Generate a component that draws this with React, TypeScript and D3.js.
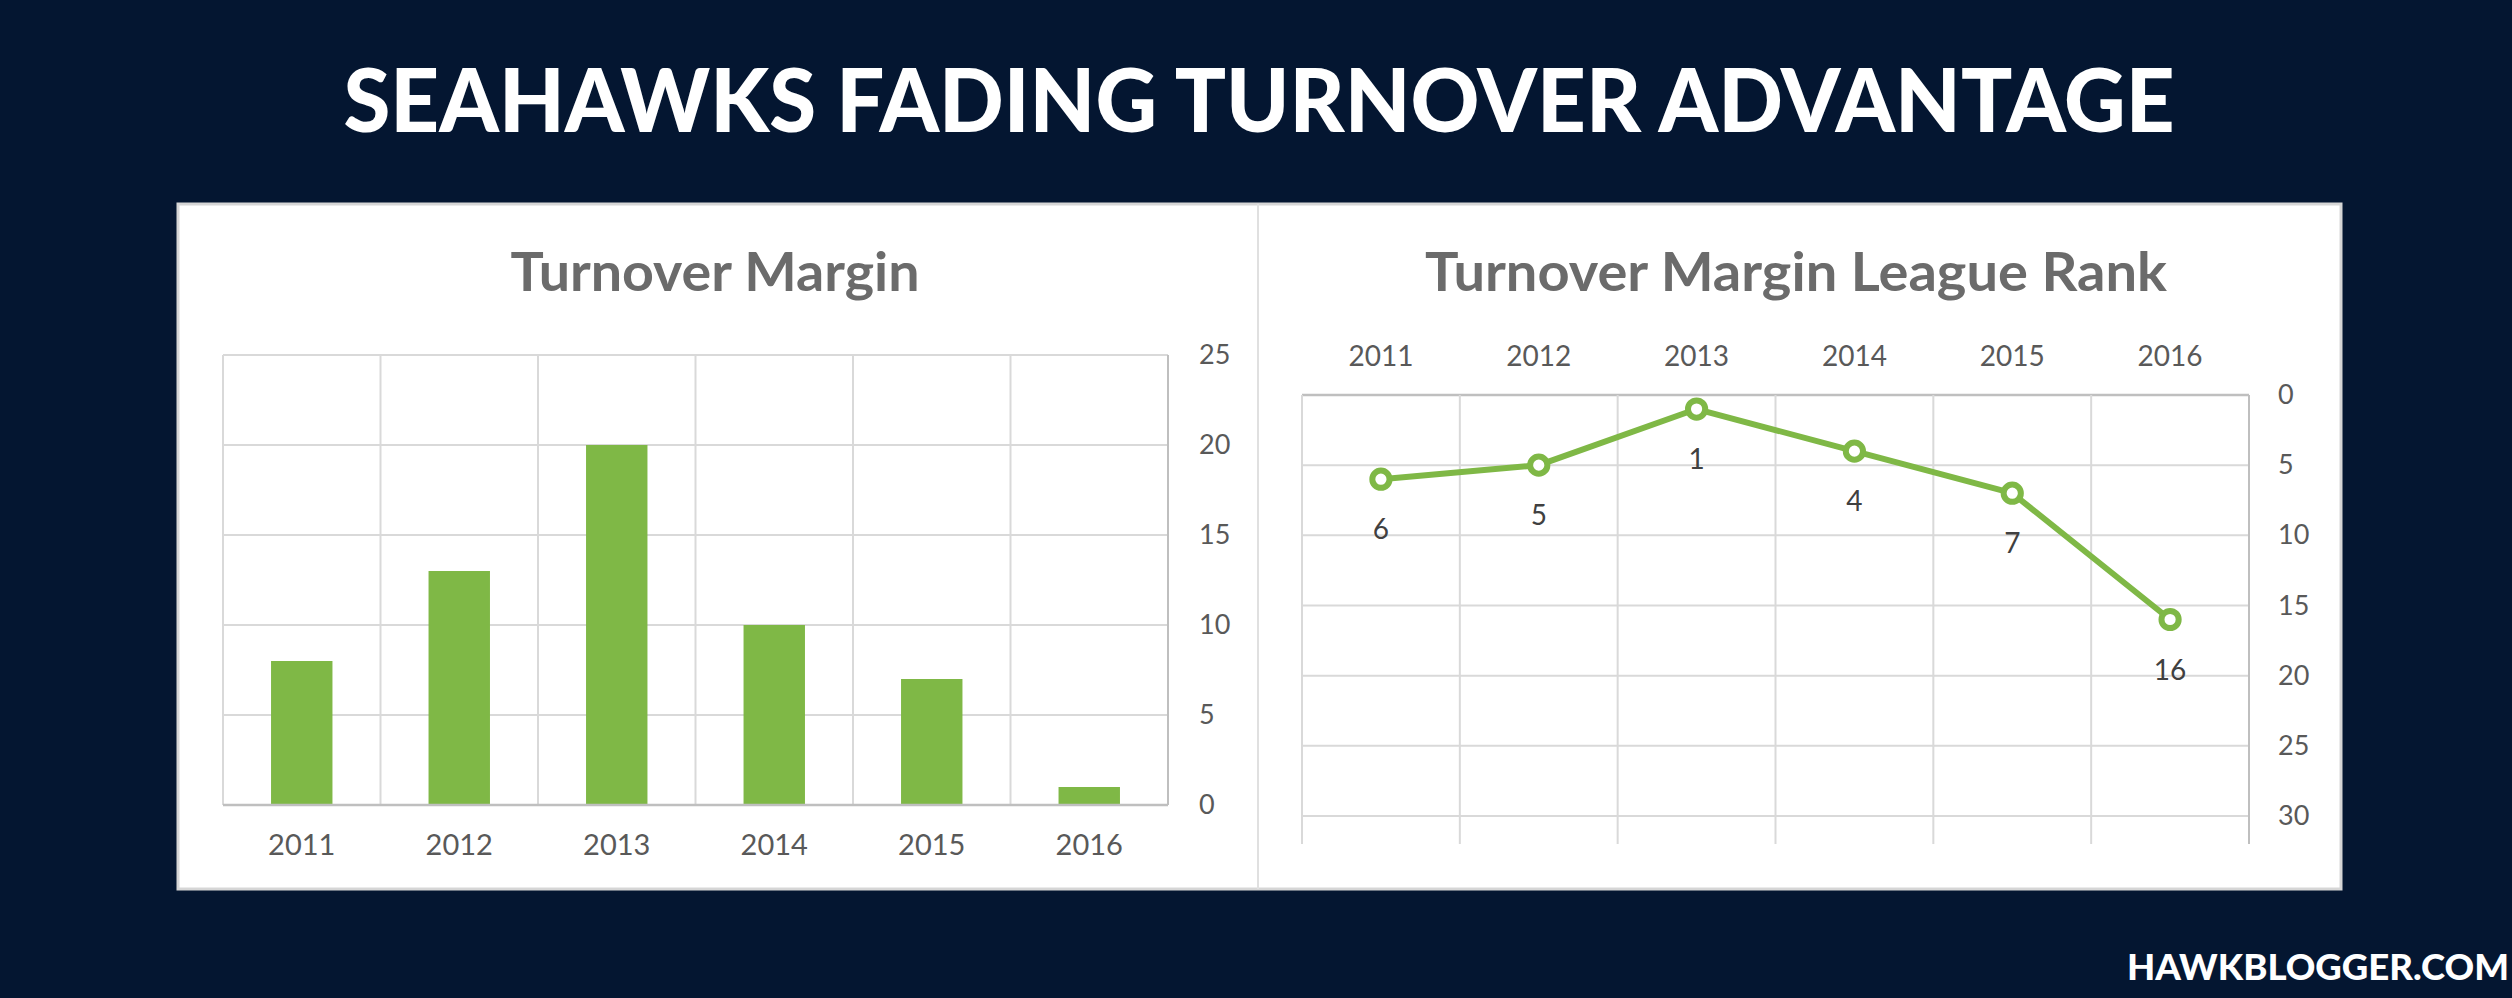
import { useEffect, useRef } from 'react'
import * as d3 from 'd3'

// 데이터
const years = ['2011', '2012', '2013', '2014', '2015', '2016']
const turnoverMargin = [8, 13, 20, 10, 7, 1]
const leagueRank = [6, 5, 1, 4, 7, 16]
const marginTicks = [0, 5, 10, 15, 20, 25]
const rankTicks = [0, 5, 10, 15, 20, 25, 30]

const W = 2512
const H = 998
const BG = '#041631'
const GREEN = '#7FB846'
const GRID = '#D9D9D9'
const AXIS = '#BFBFBF'
const LABEL = '#595959'
const FONT = "Lato, 'Open Sans', sans-serif"

// 패널 / 플롯 영역
const PANEL = { x: 178, y: 204, w: 2163, h: 685 }
const DIVIDER_X = 1258
const BAR = { left: 223, right: 1168, top: 355, bottom: 805 }
const LINE = { left: 1302, right: 2249, top: 395, bottom: 844 }

export default function App() {
  const svgRef = useRef<SVGSVGElement>(null)

  useEffect(() => {
    const svg = d3.select(svgRef.current)
    svg.selectAll('*').remove()
    svg.attr('viewBox', `0 0 ${W} ${H}`)

    svg.append('rect').attr('width', W).attr('height', H).attr('fill', BG)

    // ── 큰 제목 ──
    svg.append('text')
      .attr('x', 1259).attr('y', 132)
      .attr('text-anchor', 'middle')
      .attr('font-family', FONT).attr('font-weight', 900).attr('font-size', 88)
      .attr('fill', '#FFFFFF')
      .attr('textLength', 1831).attr('lengthAdjust', 'spacingAndGlyphs')
      .text('SEAHAWKS FADING TURNOVER ADVANTAGE')

    // ── 흰 패널 ──
    svg.append('rect')
      .attr('x', PANEL.x).attr('y', PANEL.y).attr('width', PANEL.w).attr('height', PANEL.h)
      .attr('fill', '#FFFFFF').attr('stroke', '#D6D6D6').attr('stroke-width', 3)
    svg.append('line')
      .attr('x1', DIVIDER_X).attr('x2', DIVIDER_X)
      .attr('y1', PANEL.y).attr('y2', PANEL.y + PANEL.h)
      .attr('stroke', '#E0E0E0').attr('stroke-width', 2)

    // ── 차트 제목 ──
    const chartTitle = (x: number, len: number, txt: string) =>
      svg.append('text')
        .attr('x', x).attr('y', 291)
        .attr('text-anchor', 'middle')
        .attr('font-family', FONT).attr('font-weight', 700).attr('font-size', 53)
        .attr('fill', '#6B6B6B')
        .attr('textLength', len).attr('lengthAdjust', 'spacingAndGlyphs')
        .text(txt)
    chartTitle(715, 409, 'Turnover Margin')
    chartTitle(1796, 742, 'Turnover Margin League Rank')

    // ════ 막대 차트 ════
    const xGrid = d3.scaleBand<string>().domain(years).range([BAR.left, BAR.right])
    const xBar = d3.scaleBand<string>().domain(years).range([BAR.left, BAR.right])
      .paddingInner(0.61).paddingOuter(0.305)
    const yBar = d3.scaleLinear().domain([0, 25]).range([BAR.bottom, BAR.top])

    const gb = svg.append('g')
    marginTicks.forEach((t) => {
      gb.append('line')
        .attr('x1', BAR.left).attr('x2', BAR.right)
        .attr('y1', yBar(t)).attr('y2', yBar(t))
        .attr('stroke', GRID).attr('stroke-width', 2)
    })
    ;[...years.map((y) => xGrid(y) as number), BAR.right].forEach((xv, i, arr) => {
      gb.append('line')
        .attr('x1', xv).attr('x2', xv)
        .attr('y1', BAR.top).attr('y2', BAR.bottom)
        .attr('stroke', i === arr.length - 1 ? AXIS : GRID).attr('stroke-width', 2)
    })

    gb.selectAll('rect.bar').data(turnoverMargin).join('rect')
      .attr('class', 'bar')
      .attr('x', (_, i) => xBar(years[i]) as number)
      .attr('width', xBar.bandwidth())
      .attr('y', (d) => yBar(d))
      .attr('height', (d) => yBar(0) - yBar(d))
      .attr('fill', GREEN)

    gb.append('line')
      .attr('x1', BAR.left).attr('x2', BAR.right)
      .attr('y1', BAR.bottom).attr('y2', BAR.bottom)
      .attr('stroke', AXIS).attr('stroke-width', 2.5)

    const bx = gb.append('g').attr('transform', `translate(0,${BAR.bottom})`)
      .call(d3.axisBottom(xGrid).tickSize(0).tickPadding(29))
    bx.select('.domain').remove()
    bx.selectAll('text').attr('font-family', FONT).attr('font-size', 29).attr('fill', LABEL)

    const by = gb.append('g').attr('transform', `translate(${BAR.right},0)`)
      .call(d3.axisRight(yBar).tickValues(marginTicks).tickSize(0).tickPadding(31))
    by.select('.domain').remove()
    by.selectAll('text').attr('font-family', FONT).attr('font-size', 27).attr('fill', LABEL)

    // ════ 순위 꺾은선 차트 ════
    const xLine = d3.scaleBand<string>().domain(years).range([LINE.left, LINE.right])
    const yLine = d3.scaleLinear().domain([0, 32]).range([LINE.top, LINE.bottom])
    const cx = (y: string) => (xLine(y) as number) + xLine.bandwidth() / 2

    const gl = svg.append('g')
    rankTicks.forEach((t) => {
      gl.append('line')
        .attr('x1', LINE.left).attr('x2', LINE.right)
        .attr('y1', yLine(t)).attr('y2', yLine(t))
        .attr('stroke', t === 0 ? AXIS : GRID).attr('stroke-width', t === 0 ? 2.5 : 2)
    })
    ;[...years.map((y) => xLine(y) as number), LINE.right].forEach((xv, i, arr) => {
      gl.append('line')
        .attr('x1', xv).attr('x2', xv)
        .attr('y1', LINE.top).attr('y2', LINE.bottom)
        .attr('stroke', i === arr.length - 1 ? AXIS : GRID).attr('stroke-width', 2)
    })

    const lineGen = d3.line<number>()
      .x((_, i) => cx(years[i]))
      .y((d) => yLine(d))
    gl.append('path').datum(leagueRank).attr('d', lineGen)
      .attr('fill', 'none').attr('stroke', GREEN).attr('stroke-width', 6)
      .attr('stroke-linejoin', 'round')

    gl.selectAll('circle').data(leagueRank).join('circle')
      .attr('cx', (_, i) => cx(years[i]))
      .attr('cy', (d) => yLine(d))
      .attr('r', 8.6)
      .attr('fill', '#FFFFFF').attr('stroke', GREEN).attr('stroke-width', 6)

    gl.selectAll('text.dl').data(leagueRank).join('text')
      .attr('class', 'dl')
      .attr('x', (_, i) => cx(years[i]))
      .attr('y', (d) => yLine(d) + 50)
      .attr('dy', '0.36em')
      .attr('text-anchor', 'middle')
      .attr('font-family', FONT).attr('font-size', 28).attr('fill', '#404040')
      .text((d) => d)

    const lx = gl.append('g').attr('transform', `translate(0,${LINE.top})`)
      .call(d3.axisTop(xLine).tickSize(0).tickPadding(29))
    lx.select('.domain').remove()
    lx.selectAll('text').attr('font-family', FONT).attr('font-size', 28).attr('fill', LABEL)

    const ly = gl.append('g').attr('transform', `translate(${LINE.right},0)`)
      .call(d3.axisRight(yLine).tickValues(rankTicks).tickSize(0).tickPadding(29))
    ly.select('.domain').remove()
    ly.selectAll('text').attr('font-family', FONT).attr('font-size', 27).attr('fill', LABEL)

    // ── 출처 ──
    svg.append('text')
      .attr('x', 2509).attr('y', 980)
      .attr('text-anchor', 'end')
      .attr('font-family', FONT).attr('font-weight', 900).attr('font-size', 36)
      .attr('fill', '#FFFFFF')
      .attr('textLength', 382).attr('lengthAdjust', 'spacingAndGlyphs')
      .text('HAWKBLOGGER.COM')
  }, [])

  return (
    <svg
      ref={svgRef}
      width={W}
      height={H}
      style={{ position: 'absolute', left: 0, top: 0, display: 'block' }}
    />
  )
}
